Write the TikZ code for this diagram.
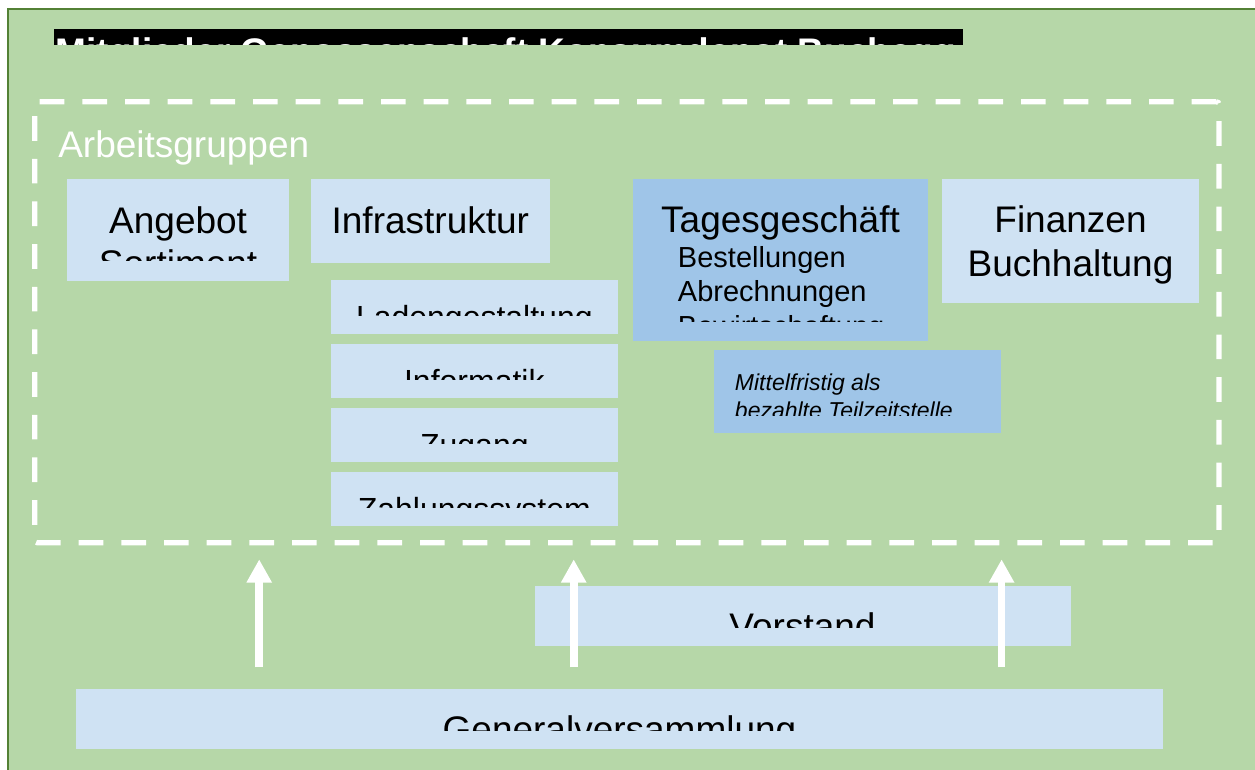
\documentclass[tikz,border=0pt]{standalone}
\usepackage{fontspec}
\setmainfont{Liberation Sans}
\usetikzlibrary{arrows.meta,positioning,fit}
\definecolor{bg}{HTML}{B6D7A8}
\definecolor{frameline}{HTML}{538135}
\definecolor{lblue}{HTML}{CFE2F3}
\definecolor{dblue}{HTML}{9FC5E8}

\begin{document}
\begin{tikzpicture}[
    x=0.75pt, y=-0.75pt,
    box/.style={fill=lblue, inner sep=0pt, outer sep=0pt},
    darkbox/.style={fill=dblue, inner sep=0pt, outer sep=0pt},
    subbox/.style={box, minimum width=215pt, minimum height=40.3pt},
    big/.style={font=\fontsize{27.75}{33}\selectfont, inner sep=0pt, anchor=base},
    mid/.style={font=\fontsize{24}{29}\selectfont, inner sep=0pt, anchor=base},
    small/.style={font=\fontsize{21.75}{26}\selectfont, inner sep=0pt, anchor=base west},
    note/.style={font=\fontsize{17.25}{21}\selectfont\itshape, inner sep=0pt, anchor=base west},
    uparrow/.style={-{Triangle[length=17.5pt,width=18pt]}, line width=5.7pt, white},
]
\useasboundingbox (0,0) rectangle (1255,770);

% background frame
\node[fit={(8.3,9.3) (1265,780)}, fill=bg, draw=frameline, line width=1.5pt, inner sep=0pt] (frame) {};

% title bar
\node[fit={(53.6,29.3) (962.7,45)}, fill=black, inner sep=0pt, outer sep=0pt] (titlebar) {};
\begin{scope}
\clip (titlebar.south west) rectangle (titlebar.north east);
\node[big, anchor=base west, text=white, font=\fontsize{27.75}{33}\selectfont\bfseries] (title) at (55.5,64.2) {Mitglieder Genossenschaft Konsumdepot Buchegg};
\end{scope}

% working groups
\node[fit={(34.8,101.7) (1219,542.8)}, inner sep=0pt, outer sep=0pt, draw=white, line width=3.9pt, rounded corners=2pt, dash pattern=on 18.5pt off 13.5pt] (ag) {};
\node[big, anchor=base west, text=white] (agtitle) at (58,157) {Arbeitsgruppen};

\node[box, fit={(67.2,179.3) (289,280.7)}] (angebot) {};
\node[box, fit={(310.6,179.3) (550,262.7)}] (infra) {};
\node[darkbox, fit={(633,179.3) (928,340.7)}] (tages) {};
\node[box, fit={(942,179.3) (1199,302.7)}] (finanzen) {};

\begin{scope}
\clip (67.2,179.3) rectangle (289,260.7);
\node[big] (angebottxt) at (178.1,233.3) {Angebot};
\node[big] (sortimenttxt) at (178.1,276.6) {Sortiment};
\end{scope}
\node[big] (infratxt) at (430.3,233.3) {Infrastruktur};
\begin{scope}
\clip (633,179.3) rectangle (928,321.7);
\node[big] (tagestxt) at (780.5,232.7) {Tagesgeschäft};
\node[small] (bestell) at (677.7,267.3) {Bestellungen};
\node[small] (abrech) at (677.7,301.7) {Abrechnungen};
\node[small] (bewirt) at (677.7,336.1) {Bewirtschaftung};
\end{scope}
\node[big] (finanzentxt) at (1070.5,232.7) {Finanzen};
\node[big] (buchtxt) at (1070.5,276) {Buchhaltung};

% infrastructure sub groups
\node[subbox, anchor=north west] (laden) at (331,280) {};
\node[subbox, below=7.7pt of laden] (info) {};
\node[subbox, below=7.7pt of info] (zugang) {};
\node[subbox, below=7.7pt of zugang] (zahlung) {};
\begin{scope}
\clip (laden.north west) rectangle ([yshift=-26.8pt]laden.north east);
\node[mid] (ladentxt) at ([yshift=-36.45pt]laden.north) {Ladengestaltung};
\end{scope}
\begin{scope}
\clip (info.north west) rectangle ([yshift=-26.8pt]info.north east);
\node[mid] (infotxt) at ([yshift=-36.45pt]info.north) {Informatik};
\end{scope}
\begin{scope}
\clip (zugang.north west) rectangle ([yshift=-26.8pt]zugang.north east);
\node[mid] (zugangtxt) at ([yshift=-36.45pt]zugang.north) {Zugang};
\end{scope}
\begin{scope}
\clip (zahlung.north west) rectangle ([yshift=-26.8pt]zahlung.north east);
\node[mid] (zahlungtxt) at ([yshift=-36.45pt]zahlung.north) {Zahlungssystem};
\end{scope}

% note
\node[darkbox, fit={(714,350) (1000.8,433.3)}] (mittel) {};
\begin{scope}
\clip (714,350) rectangle (1000.8,415);
\node[note] (mitteltxt) at (734.7,390.7) {Mittelfristig als};
\node[note] (teilzeit) at (734.7,418.3) {bezahlte Teilzeitstelle};
\end{scope}

% board and assembly
\node[box, fit={(535,586) (1070.5,646)}] (vorstand) {};
\begin{scope}
\clip (535,586) rectangle (1070.5,627.3);
\node[big] (vorstandtxt) at (802.5,639.8) {Vorstand};
\end{scope}
\node[box, fit={(76,689.3) (1162.5,749)}] (gv) {};
\begin{scope}
\clip (76,689.3) rectangle (1162.5,730.7);
\node[big] (gvtxt) at (619.5,742.2) {Generalversammlung};
\end{scope}

\coordinate (a1) at (259.2,0);
\coordinate (a2) at (573.7,0);
\coordinate (a3) at (1001.6,0);
\draw[uparrow, shorten <=16.5pt, shorten >=12.4pt] (gv.north -| a1) -- (ag.south -| a1);
\draw[uparrow, shorten <=16.5pt, shorten >=12.4pt] (gv.north -| a2) -- (ag.south -| a2);
\draw[uparrow, shorten <=16.5pt, shorten >=12.4pt] (gv.north -| a3) -- (ag.south -| a3);
\end{tikzpicture}
\end{document}
